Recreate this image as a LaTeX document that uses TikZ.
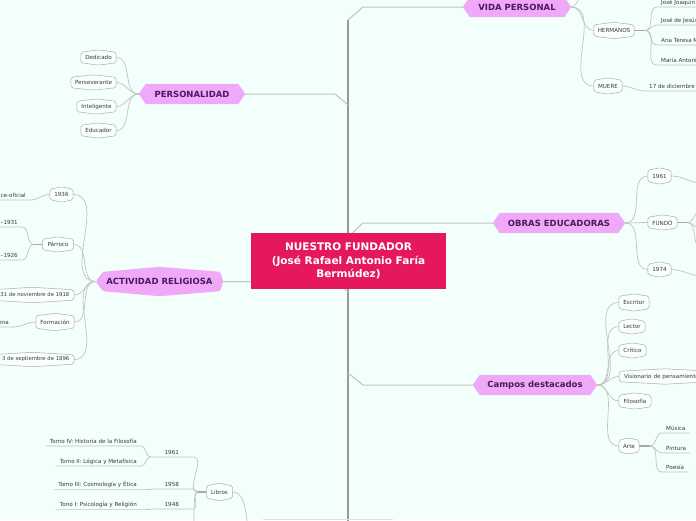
\documentclass[tikz,border=0pt]{standalone}
\usepackage{fontspec}
\setmainfont{DejaVu Sans}
\definecolor{bgc}{HTML}{F3FFFB}
\definecolor{topicfill}{HTML}{F0A8F8}
\definecolor{topictext}{HTML}{4B1A5E}
\definecolor{centerc}{HTML}{E5185E}
\definecolor{boxborder}{HTML}{ABABAB}
\definecolor{boxfill}{HTML}{F8FFFE}
\definecolor{connc}{HTML}{C2C2C2}
\definecolor{spinec}{HTML}{999999}
\definecolor{txt}{HTML}{3A3A3A}
\definecolor{lilac}{HTML}{E4DCEA}
\newcommand\smallf{\fontsize{5.6}{6.6}\selectfont}
\newcommand\tinyf{\fontsize{5.3}{6.2}\selectfont}
\pgfdeclarelayer{bgl}\pgfdeclarelayer{lines}\pgfdeclarelayer{shapes}
\pgfsetlayers{bgl,lines,shapes,main}
\newcommand\topicshape[2]{\fill[topicfill] (#1.west) -- ([xshift=#2]#1.north west) -- ([xshift=-#2]#1.north east) -- (#1.east) -- ([xshift=-#2]#1.south east) -- ([xshift=#2]#1.south west) -- cycle;}
\newcommand\boxshape[1]{\filldraw[fill=boxfill,draw=boxborder,line width=0.5pt,rounded corners=2pt] (#1.west) -- ([yshift=-2.5pt]#1.north west) -- (#1.north) -- ([yshift=-2.5pt]#1.north east) -- (#1.east) -- ([yshift=2.5pt]#1.south east) -- (#1.south) -- ([yshift=2.5pt]#1.south west) -- cycle;}
\begin{document}
\begin{tikzpicture}[x=1pt,y=-1pt,
  root/.style={rectangle,fill=centerc,text=white,font=\fontsize{10.5}{13.5}\selectfont\bfseries,align=center,minimum width=195pt,minimum height=56pt,inner sep=0pt},
  topic/.style={rectangle,inner sep=0pt,font=\fontsize{8.5}{10}\selectfont\bfseries,text=topictext},
  sbox/.style={rectangle,inner sep=0pt,font=\smallf,text=txt},
  leaf/.style={inner xsep=4pt,inner ysep=1.5pt,font=\smallf,text=txt,text height=4.1pt,text depth=1.2pt},
  conn/.style={draw=connc,line width=0.7pt},
  branch/.style={draw=connc,line width=1pt},
  spine/.style={draw=spinec,line width=2pt},
  dbl/.style={draw=spinec!85,line width=1.3pt}]
\begin{pgfonlayer}{bgl}
\fill[bgc] (0,0) rectangle (696,520);
\end{pgfonlayer}
\useasboundingbox (0,0) rectangle (696,520);

% ---- central and main topics
\node[root] (root) at (348.5,261) {NUESTRO FUNDADOR\\(José Rafael Antonio Faría\\Bermúdez)};
\node[topic,minimum width=108pt,minimum height=20pt] (vida) at (517,7) {VIDA PERSONAL};
\node[topic,minimum width=106pt,minimum height=20pt] (pers) at (192,94) {PERSONALIDAD};
\node[topic,minimum width=127pt,minimum height=29pt] (act) at (159.5,281.5) {ACTIVIDAD RELIGIOSA};
\node[topic,minimum width=132pt,minimum height=20pt] (obras) at (559,223) {OBRAS EDUCADORAS};
\node[topic,minimum width=124pt,minimum height=20pt] (campos) at (535,385) {Campos destacados};

% ---- personalidad
\node[sbox,minimum width=35pt,minimum height=15pt] (dedicado) at (98.5,57.5) {Dedicado};
\node[sbox,minimum width=45pt,minimum height=15pt] (persev) at (93.5,82.5) {Perseverante};
\node[sbox,minimum width=39pt,minimum height=15pt] (intel) at (96.5,106.5) {Inteligente};
\node[sbox,minimum width=35pt,minimum height=15pt] (educ) at (98.5,130.5) {Educador};

% ---- actividad religiosa
\node[sbox,minimum width=23pt,minimum height=15pt] (a1936) at (61.5,194.5) {1936};
\node[sbox,minimum width=31pt,minimum height=15pt] (parroco) at (58,244.5) {Párroco};
\node[sbox,font=\tinyf,anchor=east,text width=74pt,align=right,inner xsep=4.5pt,minimum height=15pt] (nov) at (74,295) {31 de noviembre de 1918};
\node[sbox,minimum width=38pt,minimum height=17pt] (formacion) at (55,322) {Formación};
\node[sbox,font=\tinyf,anchor=east,text width=74pt,align=right,inner xsep=4.5pt,minimum height=14pt] (sept) at (74,359.5) {3 de septiembre de 1896};
\node[leaf,anchor=south east] (oficial) at (30,200) {ce-oficial};
\node[leaf,anchor=south east] (p1931) at (22,227) {–1931};
\node[leaf,anchor=south east] (p1926) at (22,260) {–1926};
\node[leaf,anchor=south east] (ona) at (13,327) {ona};
\coordinate (pj) at (34,244.5);

% ---- libros
\node[sbox,minimum width=26pt,minimum height=17pt] (libros) at (219.5,492) {Libros};
\coordinate (lj) at (198,492);
\node[leaf,anchor=south east,minimum width=42pt] (y1961) at (193,457) {1961};
\node[leaf,anchor=south east,minimum width=42pt] (y1958) at (193,489) {1958};
\node[leaf,anchor=south east,minimum width=42pt] (y1948) at (193,509) {1948};
\node[leaf,anchor=south east] (tomo4) at (141,446) {Tomo IV: Historia de la Filosofía};
\node[leaf,anchor=south east] (tomo2) at (141,466) {Tomo II: Lógica y Metafísica};
\node[leaf,anchor=south east] (tomo3) at (141,489) {Tomo III: Cosmología y Ética};
\node[leaf,anchor=south east] (tomo1) at (141,509) {Tono I: Psicología y Religión};
\coordinate (ldown) at (194,530);
\coordinate (lpar) at (248,530);

% ---- vida personal
\node[sbox,minimum width=40pt,minimum height=16pt] (hermanos) at (614,30.5) {HERMANOS};
\node[sbox,minimum width=28pt,minimum height=16pt] (muere) at (608,86) {MUERE};
\coordinate (hj) at (645,30.5);
\coordinate (vtop) at (582,-8);
\node[leaf,anchor=south west] (jj) at (657,7) {José Joaquín};
\node[leaf,anchor=south west] (jd) at (657,25) {José de Jesús};
\node[leaf,anchor=south west] (at) at (657,45) {Ana Teresa M};
\node[leaf,anchor=south west] (ma) at (657,65) {María Antonia};
\node[leaf,anchor=south west] (dic) at (645,91) {17 de diciembre de};

% ---- obras educadoras
\node[sbox,minimum width=23pt,minimum height=16pt] (o1961) at (659.5,176) {1961};
\node[sbox,minimum width=29pt,minimum height=15pt] (fundo) at (662.5,222.5) {FUNDÓ};
\node[sbox,minimum width=23pt,minimum height=15pt] (o1974) at (659.5,269.5) {1974};
\coordinate (o61c) at (702,183);
\coordinate (o74c) at (702,276);
\coordinate (fj) at (687,222.5);
\coordinate (f1) at (702,210);
\coordinate (f2) at (702,229);
\coordinate (f3) at (702,248);

% ---- campos destacados
\node[sbox,minimum width=30pt,minimum height=17pt] (escritor) at (634,302.5) {Escritor};
\node[sbox,minimum width=26pt,minimum height=15pt] (lector) at (632,326.5) {Lector};
\node[sbox,minimum width=27pt,minimum height=15pt] (critico) at (632.5,350.5) {Crítico};
\node[sbox,anchor=west,text width=82pt,align=left,inner xsep=5pt,minimum height=15pt] (vision) at (619,376.5) {Visionario de pensamiento};
\node[sbox,minimum width=32pt,minimum height=16pt] (filo) at (635,401) {Filosofía};
\node[sbox,minimum width=20pt,minimum height=16pt] (arte) at (629,446) {Arte};
\coordinate (aj) at (650,446);
\node[leaf,anchor=south west] (musica) at (662,433) {Música};
\node[leaf,anchor=south west] (pintura) at (662,453) {Pintura};
\node[leaf,anchor=south west] (poesia) at (662,472) {Poesía};

% ---- shapes
\begin{pgfonlayer}{shapes}
\topicshape{vida}{7pt}
\topicshape{pers}{7pt}
\topicshape{obras}{7pt}
\topicshape{campos}{7pt}
\fill[topicfill,rounded corners=1.5pt] (act.west) -- ([xshift=7pt,yshift=-5pt]act.north west) -- (act.north) -- ([xshift=-3pt,yshift=-5pt]act.north east) -- (act.east) -- ([xshift=-3pt,yshift=5pt]act.south east) -- (act.south) -- ([xshift=7pt,yshift=5pt]act.south west) -- cycle;
\foreach \n in {dedicado,persev,intel,educ,a1936,parroco,formacion,libros,hermanos,muere,o1961,fundo,o1974,escritor,lector,critico,vision,filo,arte}{\boxshape{\n}}
\filldraw[fill=boxfill,draw=boxborder,line width=0.5pt,rounded corners=2pt] ([xshift=-8pt]nov.west) -- ([xshift=-8pt,yshift=-3pt]nov.north west) -- (nov.north) -- ([yshift=-2.5pt]nov.north east) -- (nov.east) -- ([yshift=2.5pt]nov.south east) -- (nov.south) -- ([xshift=-8pt,yshift=3pt]nov.south west) -- cycle;
\filldraw[fill=boxfill,draw=boxborder,line width=0.5pt,rounded corners=2pt] ([xshift=-8pt]sept.west) -- ([xshift=-8pt,yshift=-3pt]sept.north west) -- (sept.north) -- ([yshift=-2.5pt]sept.north east) -- (sept.east) -- ([yshift=2.5pt]sept.south east) -- (sept.south) -- ([xshift=-8pt,yshift=3pt]sept.south west) -- cycle;
\end{pgfonlayer}

% ---- connectors
\begin{pgfonlayer}{lines}
\coordinate (sTop) at (348,20);
\coordinate (sBot) at (348,525);
\coordinate (jP) at (348,105);
\coordinate (jA) at (348,292);
\coordinate (jO) at (348,237);
\coordinate (jC) at (348,373);
\draw[spine] (sTop) -- (sBot);
\draw[branch] (vida.west) -- (363,7) -- (sTop);
\draw[branch] (pers.east) -- (335,94) -- (jP);
\draw[branch] (act.east) -- (335,281.5) -- (jA);
\draw[branch] (obras.west) -- (363,223) -- (jO);
\draw[branch] (campos.west) -- (363,385) -- (jC);
\coordinate (bl1) at (263,519.6);
\coordinate (bl2) at (393,519.6);
\draw[draw=lilac,line width=1pt] (bl1) -- (bl2);
% personalidad
\foreach \n in {dedicado,persev,intel,educ}{\draw[conn] (\n.east) to[out=0,in=180] (pers.west);}
% actividad
\foreach \n in {a1936,parroco,nov,formacion,sept}{\draw[conn] (\n.east) to[out=0,in=180] (act.west);}
\draw[conn] ([xshift=-20pt]oficial.south west) -- (oficial.south east) to[out=0,in=180] (a1936.west);
\draw[conn] ([xshift=-20pt]p1931.south west) -- (p1931.south east) to[out=0,in=180] (pj);
\draw[conn] ([xshift=-20pt]p1926.south west) -- (p1926.south east) to[out=0,in=180] (pj);
\draw[dbl] (pj) -- (parroco.west);
\draw[conn] ([xshift=-20pt]ona.south west) -- (ona.south east) to[out=0,in=180] (formacion.west);
% libros
\draw[dbl] (lj) -- (libros.west);
\draw[conn] (libros.east) .. controls (243,492) and (246,506) .. (lpar);
\foreach \n in {y1961,y1958,y1948}{\draw[conn] (\n.south west) -- (\n.south east) to[out=0,in=180] (lj);}
\draw[conn] (lj) .. controls (194,492) and (194,500) .. (ldown);
\foreach \n in {tomo4,tomo2}{\draw[conn] (\n.south west) -- (\n.south east) to[out=0,in=180] (y1961.south west);}
\draw[conn] (tomo3.south west) -- (tomo3.south east) -- (y1958.south west);
\draw[conn] (tomo1.south west) -- (tomo1.south east) -- (y1948.south west);
% vida personal
\draw[conn] (vida.east) .. controls (576,7) and (578,0) .. (vtop);
\draw[conn] (vida.east) to[out=0,in=180] (hermanos.west);
\draw[conn] (vida.east) to[out=0,in=180] (muere.west);
\draw[dbl] (hermanos.east) -- (hj);
\foreach \n in {jj,jd,at,ma}{\draw[conn] (hj) to[out=0,in=180] (\n.south west) -- ([xshift=20pt]\n.south east);}
\draw[conn] (muere.east) to[out=0,in=180] (dic.south west) -- ([xshift=20pt]dic.south east);
% obras
\foreach \n in {o1961,fundo,o1974}{\draw[conn] (obras.east) to[out=0,in=180] (\n.west);}
\draw[conn] (o1961.east) to[out=0,in=180] (o61c);
\draw[conn] (o1974.east) to[out=0,in=180] (o74c);
\draw[dbl] (fundo.east) -- (fj);
\foreach \n in {f1,f2,f3}{\draw[conn] (fj) to[out=0,in=180] (\n);}
% campos
\foreach \n in {escritor,lector,critico,vision,filo,arte}{\draw[conn] (campos.east) to[out=0,in=180] (\n.west);}
\draw[dbl] (arte.east) -- (aj);
\foreach \n in {musica,pintura,poesia}{\draw[conn] (aj) to[out=0,in=180] (\n.south west) -- (\n.south east);}
\end{pgfonlayer}
\end{tikzpicture}
\end{document}
